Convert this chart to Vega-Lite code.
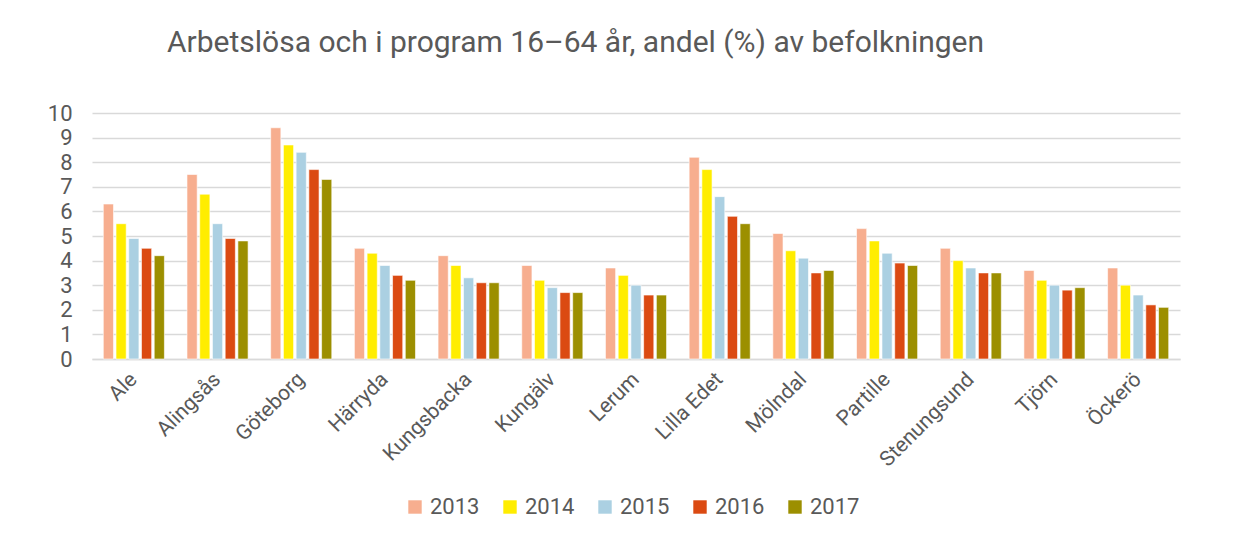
{
  "$schema": "https://vega.github.io/schema/vega-lite/v6.json",
  "autosize": "none",
  "width": 1088,
  "height": 246,
  "padding": {"left": 92, "top": 113, "right": 65, "bottom": 177},
  "background": "white",
  "title": {
    "text": "Arbetslösa och i program 16–64 år, andel (%) av befolkningen",
    "anchor": "start",
    "frame": "group",
    "dx": 75,
    "offset": 44,
    "fontSize": 30,
    "font": "Roboto",
    "fontWeight": "normal",
    "color": "#595959"
  },
  "data": {
    "values": [
      {"kommun": "Ale", "year": "2013", "value": 6.3},
      {"kommun": "Ale", "year": "2014", "value": 5.5},
      {"kommun": "Ale", "year": "2015", "value": 4.9},
      {"kommun": "Ale", "year": "2016", "value": 4.5},
      {"kommun": "Ale", "year": "2017", "value": 4.2},
      {"kommun": "Alingsås", "year": "2013", "value": 7.5},
      {"kommun": "Alingsås", "year": "2014", "value": 6.7},
      {"kommun": "Alingsås", "year": "2015", "value": 5.5},
      {"kommun": "Alingsås", "year": "2016", "value": 4.9},
      {"kommun": "Alingsås", "year": "2017", "value": 4.8},
      {"kommun": "Göteborg", "year": "2013", "value": 9.4},
      {"kommun": "Göteborg", "year": "2014", "value": 8.7},
      {"kommun": "Göteborg", "year": "2015", "value": 8.4},
      {"kommun": "Göteborg", "year": "2016", "value": 7.7},
      {"kommun": "Göteborg", "year": "2017", "value": 7.3},
      {"kommun": "Härryda", "year": "2013", "value": 4.5},
      {"kommun": "Härryda", "year": "2014", "value": 4.3},
      {"kommun": "Härryda", "year": "2015", "value": 3.8},
      {"kommun": "Härryda", "year": "2016", "value": 3.4},
      {"kommun": "Härryda", "year": "2017", "value": 3.2},
      {"kommun": "Kungsbacka", "year": "2013", "value": 4.2},
      {"kommun": "Kungsbacka", "year": "2014", "value": 3.8},
      {"kommun": "Kungsbacka", "year": "2015", "value": 3.3},
      {"kommun": "Kungsbacka", "year": "2016", "value": 3.1},
      {"kommun": "Kungsbacka", "year": "2017", "value": 3.1},
      {"kommun": "Kungälv", "year": "2013", "value": 3.8},
      {"kommun": "Kungälv", "year": "2014", "value": 3.2},
      {"kommun": "Kungälv", "year": "2015", "value": 2.9},
      {"kommun": "Kungälv", "year": "2016", "value": 2.7},
      {"kommun": "Kungälv", "year": "2017", "value": 2.7},
      {"kommun": "Lerum", "year": "2013", "value": 3.7},
      {"kommun": "Lerum", "year": "2014", "value": 3.4},
      {"kommun": "Lerum", "year": "2015", "value": 3.0},
      {"kommun": "Lerum", "year": "2016", "value": 2.6},
      {"kommun": "Lerum", "year": "2017", "value": 2.6},
      {"kommun": "Lilla Edet", "year": "2013", "value": 8.2},
      {"kommun": "Lilla Edet", "year": "2014", "value": 7.7},
      {"kommun": "Lilla Edet", "year": "2015", "value": 6.6},
      {"kommun": "Lilla Edet", "year": "2016", "value": 5.8},
      {"kommun": "Lilla Edet", "year": "2017", "value": 5.5},
      {"kommun": "Mölndal", "year": "2013", "value": 5.1},
      {"kommun": "Mölndal", "year": "2014", "value": 4.4},
      {"kommun": "Mölndal", "year": "2015", "value": 4.1},
      {"kommun": "Mölndal", "year": "2016", "value": 3.5},
      {"kommun": "Mölndal", "year": "2017", "value": 3.6},
      {"kommun": "Partille", "year": "2013", "value": 5.3},
      {"kommun": "Partille", "year": "2014", "value": 4.8},
      {"kommun": "Partille", "year": "2015", "value": 4.3},
      {"kommun": "Partille", "year": "2016", "value": 3.9},
      {"kommun": "Partille", "year": "2017", "value": 3.8},
      {"kommun": "Stenungsund", "year": "2013", "value": 4.5},
      {"kommun": "Stenungsund", "year": "2014", "value": 4.0},
      {"kommun": "Stenungsund", "year": "2015", "value": 3.7},
      {"kommun": "Stenungsund", "year": "2016", "value": 3.5},
      {"kommun": "Stenungsund", "year": "2017", "value": 3.5},
      {"kommun": "Tjörn", "year": "2013", "value": 3.6},
      {"kommun": "Tjörn", "year": "2014", "value": 3.2},
      {"kommun": "Tjörn", "year": "2015", "value": 3.0},
      {"kommun": "Tjörn", "year": "2016", "value": 2.8},
      {"kommun": "Tjörn", "year": "2017", "value": 2.9},
      {"kommun": "Öckerö", "year": "2013", "value": 3.7},
      {"kommun": "Öckerö", "year": "2014", "value": 3.0},
      {"kommun": "Öckerö", "year": "2015", "value": 2.6},
      {"kommun": "Öckerö", "year": "2016", "value": 2.2},
      {"kommun": "Öckerö", "year": "2017", "value": 2.1}
    ]
  },
  "mark": {"type": "bar", "stroke": "white", "strokeWidth": 0.6},
  "encoding": {
    "x": {
      "field": "kommun",
      "type": "nominal",
      "sort": null,
      "title": null,
      "scale": {"paddingInner": 0.27, "paddingOuter": 0.135},
      "axis": {
        "labelAngle": -45,
        "labelAlign": "right",
        "labelBaseline": "middle",
        "labelFontSize": 21,
        "labelFont": "Roboto",
        "labelColor": "#595959",
        "labelPadding": 17,
        "ticks": false,
        "domainColor": "#D9D9D9",
        "domainWidth": 1.5
      }
    },
    "xOffset": {
      "field": "year",
      "type": "nominal",
      "scale": {"paddingInner": 0.2, "paddingOuter": 0}
    },
    "y": {
      "field": "value",
      "type": "quantitative",
      "title": null,
      "scale": {"domain": [0, 10], "nice": false},
      "axis": {
        "values": [0, 1, 2, 3, 4, 5, 6, 7, 8, 9, 10],
        "labelFontSize": 22,
        "labelFont": "Roboto",
        "labelColor": "#595959",
        "labelPadding": 20,
        "ticks": false,
        "domain": false,
        "gridColor": "#D9D9D9",
        "gridWidth": 1.5
      }
    },
    "color": {
      "field": "year",
      "type": "nominal",
      "title": null,
      "scale": {
        "domain": ["2013", "2014", "2015", "2016", "2017"],
        "range": ["#F7AE8F", "#FFED00", "#ABD0E2", "#DB4A12", "#9C8F00"]
      },
      "legend": {
        "orient": "none",
        "legendX": 312,
        "legendY": 383,
        "direction": "horizontal",
        "symbolType": "square",
        "symbolSize": 180,
        "symbolStrokeWidth": 0,
        "labelFontSize": 22,
        "labelFont": "Roboto",
        "labelColor": "#595959",
        "columnPadding": 19,
        "labelOffset": 4
      }
    }
  },
  "config": {
    "view": {"stroke": null}
  }
}
